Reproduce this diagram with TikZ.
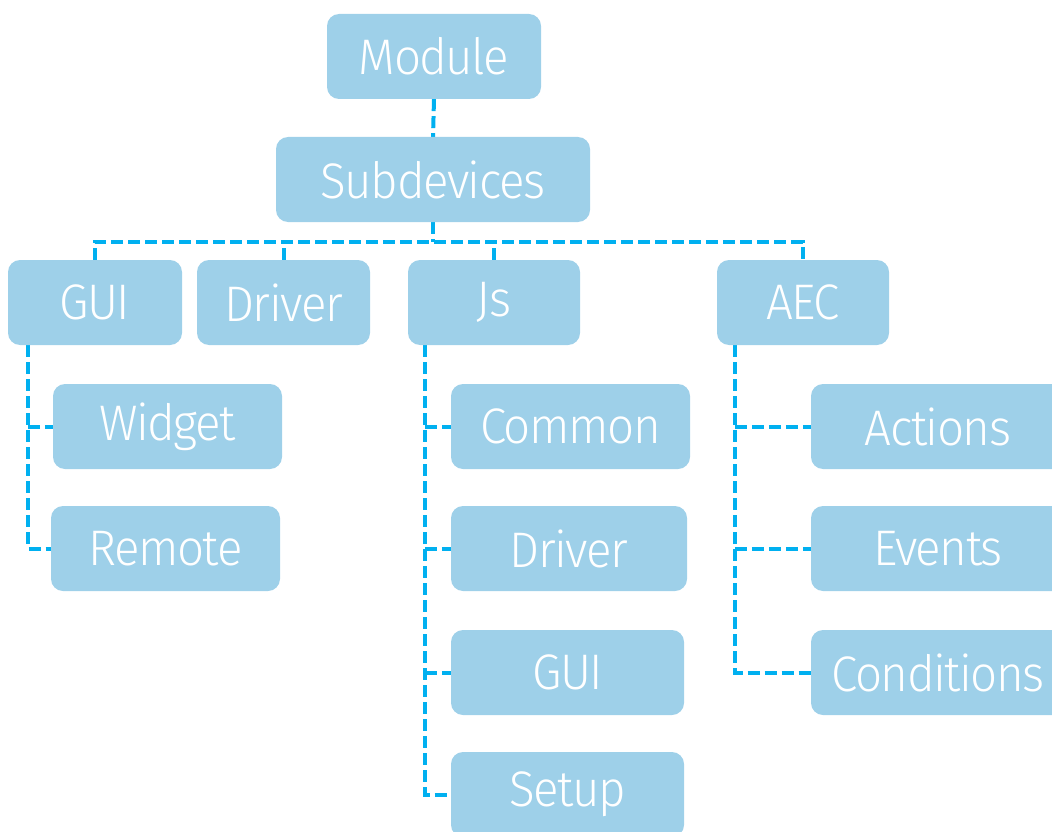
\documentclass[tikz,border=0pt]{standalone}
\usepackage{fontspec}
\setmainfont{Fira Sans Light}[FakeStretch=0.95,LetterSpace=-3]
\usetikzlibrary{backgrounds}
\begin{document}
\begin{tikzpicture}[x=1pt,y=-1pt,
  box/.style={rectangle, rounded corners=12pt, fill=boxblue, text=white, inner sep=0pt,
    minimum height=85pt, font=\fontsize{50}{54}\selectfont},
  conn/.style={draw=linecyan, line width=4pt, dash pattern=on 12pt off 5pt}]
\definecolor{boxblue}{HTML}{9ED0E9}
\definecolor{linecyan}{HTML}{00B0F0}
\useasboundingbox (0,0) rectangle (1052,832);
\node[box, minimum width=214pt] (module) at (434,56.5) {Module};
\node[box, minimum width=314pt] (sub) at (433,179.5) {Subdevices};
\node[box, minimum width=174pt] (gui) at (95,302.5) {GUI};
\node[box, minimum width=173pt] (drv) at (283.5,302.5) {Driver};
\node[box, minimum width=172pt] (js) at (494,302.5) {Js};
\node[box, minimum width=172pt] (aec) at (803,302.5) {AEC};
\node[box, minimum width=229pt] (widget) at (167.5,426.5) {Widget};
\node[box, minimum width=229pt] (remote) at (165.5,548.5) {Remote};
\node[box, minimum width=239pt] (common) at (570.5,426.5) {Common};
\node[box, minimum width=236pt] (jsdrv) at (569,548.5) {Driver};
\node[box, minimum width=233pt] (jsgui) at (567.5,672.5) {GUI};
\node[box, minimum width=233pt] (setup) at (567.5,794.5) {Setup};
\node[box, minimum width=254pt] (actions) at (938,426.5) {Actions};
\node[box, minimum width=254pt] (events) at (938,548.5) {Events};
\node[box, minimum width=254pt] (cond) at (938,672.5) {Conditions};
\coordinate (bus) at (433,242);
\coordinate (gl) at ([xshift=20pt]gui.south west);
\coordinate (jl) at ([xshift=17pt]js.south west);
\coordinate (al) at ([xshift=18pt]aec.south west);
\begin{scope}[on background layer]
\draw[conn] (module.south) -- (sub.north);
\draw[conn] (sub.south) -- (bus);
\draw[conn] (gui.north) -- (gui.north |- bus) -- (aec.north |- bus) -- (aec.north);
\draw[conn] (drv.north) -- (drv.north |- bus);
\draw[conn] (js.north) -- (js.north |- bus);
\draw[conn] (gl) |- (remote.west);
\draw[conn] (gl |- widget.west) -- (widget.west);
\draw[conn] (jl) |- (setup.west);
\draw[conn] (jl |- common.west) -- (common.west);
\draw[conn] (jl |- jsdrv.west) -- (jsdrv.west);
\draw[conn] (jl |- jsgui.west) -- (jsgui.west);
\draw[conn] (al) |- (cond.west);
\draw[conn] (al |- actions.west) -- (actions.west);
\draw[conn] (al |- events.west) -- (events.west);
\end{scope}
\end{tikzpicture}
\end{document}
